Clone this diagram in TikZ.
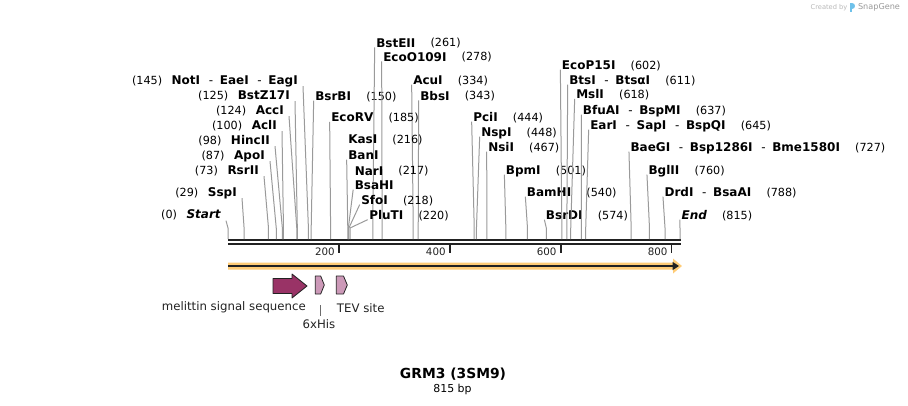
\documentclass[tikz,border=0pt]{standalone}
\usepackage{fontspec}
\setmainfont{DejaVu Sans}
\usetikzlibrary{positioning}

\definecolor{cutgray}{HTML}{9A9A9A}
\definecolor{rulerc}{HTML}{222222}
\definecolor{orfc}{HTML}{FFCC77}
\definecolor{melc}{HTML}{993366}
\definecolor{tagc}{HTML}{CC99B8}
\definecolor{logoc}{HTML}{6EC1EA}

\newcommand{\hy}{\mdseries\hspace{6.5pt}-\hspace{5pt}\bfseries}

\tikzset{enz/.style={font=\fontsize{9.0}{11}\selectfont\bfseries, inner sep=0pt,
                     text height=6.6pt, text depth=0pt}}
\tikzset{num/.style={font=\fontsize{8.4}{10}\selectfont, inner sep=0pt,
                     text height=6.1pt, text depth=0pt}}
\tikzset{cutline/.style={draw=cutgray, line width=0.75pt}}
\tikzset{feat/.style={font=\fontsize{8.8}{10}\selectfont, inner sep=0pt, text=rulerc}}
\tikzset{tagbox/.style={fill=tagc, draw=rulerc, line width=0.6pt, line join=round}}

\begin{document}
\begin{tikzpicture}[x=0.75pt, y=-0.75pt]
\useasboundingbox (0,0) rectangle (908,405);

% positions on the ruler (top edge) and the bend points above them
\foreach \p in {0,29,73,87,98,100,124,125,145,150,185,216,217,218,220,261,278,
                334,343,444,448,467,501,540,574,602,611,618,637,645,727,760,788,815}
 {\coordinate (p\p) at ({228+\p*0.5546},239);
  \coordinate (q\p) at ({228+\p*0.5546},228);}

% ruler
\draw[rulerc, line width=1.5pt] (228,240) -- (681,240);
\draw[rulerc, line width=1.6pt] (228,244) -- (681,244);
\foreach \t in {200,400,600,800}
 {\draw[rulerc, line width=1.2pt] ({228+\t*0.5546},244) -- ++(0,9);
  \node[font=\fontsize{7.7}{9}\selectfont, inner sep=0pt, text=rulerc, anchor=east]
       (t\t) at ({228+\t*0.5546-4},252) {\t};}

% ORF bar
\fill[orfc] (228,262.5) -- (673,262.5) -- (673,258.5) -- (682,266) -- (673,273.5)
            -- (673,269.5) -- (228,269.5) -- cycle;
\draw[rulerc, line width=1.4pt] (228,266) -- (674,266);
\fill[rulerc] (672.5,261.8) -- (679,266) -- (672.5,270.2) -- cycle;

% left side sites
\node[enz, anchor=east] (noti) at (298,80) {NotI\hy EaeI\hy EagI};
\node[num, left=6.75pt of noti] (n145) {(145)};
\draw[cutline] ([shift={(5,1.5)}]noti.south east) -- (q145) -- (p145);

\node[enz, anchor=east] (bstz) at (290,95) {BstZ17I};
\node[num, left=6.75pt of bstz] (n125) {(125)};
\draw[cutline] ([shift={(5,1.5)}]bstz.south east) -- (q125) -- (p125);

\node[enz, anchor=east] (acci) at (284,110) {AccI};
\node[num, left=6.75pt of acci] (n124) {(124)};
\draw[cutline] ([shift={(5,1.5)}]acci.south east) -- (q124) -- (p124);

\node[enz, anchor=east] (acli) at (277,125) {AclI};
\node[num, left=6.75pt of acli] (n100) {(100)};
\draw[cutline] ([shift={(5,1.5)}]acli.south east) -- (q100) -- (p100);

\node[enz, anchor=east] (hinc) at (270,140) {HincII};
\node[num, left=6.75pt of hinc] (n98) {(98)};
\draw[cutline] ([shift={(5,1.5)}]hinc.south east) -- (q98) -- (p98);

\node[enz, anchor=east] (apoi) at (265,155) {ApoI};
\node[num, left=6.75pt of apoi] (n87) {(87)};
\draw[cutline] ([shift={(5,1.5)}]apoi.south east) -- (q87) -- (p87);

\node[enz, anchor=east] (rsr) at (259,170) {RsrII};
\node[num, left=6.75pt of rsr] (n73) {(73)};
\draw[cutline] ([shift={(5,1.5)}]rsr.south east) -- (q73) -- (p73);

\node[enz, anchor=east] (sspi) at (237,192) {SspI};
\node[num, left=6.75pt of sspi] (n29) {(29)};
\draw[cutline] ([shift={(5,1.5)}]sspi.south east) -- (q29) -- (p29);

\node[enz, anchor=east] (start) at (221,214.5) {\itshape Start};
\node[num, left=6.75pt of start] (n0) {(0)};
\draw[cutline] ([shift={(5,1.5)}]start.south east) -- (q0) -- (p0);

% right side sites
\node[enz, anchor=west] (bsrbi) at (315,96) {BsrBI};
\node[num, right=11pt of bsrbi] (n150) {(150)};
\draw[cutline] ([xshift=-1]bsrbi.south west) -- (q150) -- (p150);

\node[enz, anchor=west] (bsteii) at (376,42.7) {BstEII};
\node[num, right=11pt of bsteii] (n261) {(261)};
\draw[cutline] ([xshift=-1]bsteii.south west) -- (q261) -- (p261);

\node[enz, anchor=west] (ecoo) at (383,56.7) {EcoO109I};
\node[num, right=11pt of ecoo] (n278) {(278)};
\draw[cutline] ([xshift=-1]ecoo.south west) -- (q278) -- (p278);

\node[enz, anchor=west] (acui) at (413,80) {AcuI};
\node[num, right=11pt of acui] (n334) {(334)};
\draw[cutline] ([xshift=-1]acui.south west) -- (q334) -- (p334);

\node[enz, anchor=west] (bbsi) at (420,95.7) {BbsI};
\node[num, right=11pt of bbsi] (n343) {(343)};
\draw[cutline] ([xshift=-1]bbsi.south west) -- (q343) -- (p343);

\node[enz, anchor=west] (ecorv) at (331,117.3) {EcoRV};
\node[num, right=11pt of ecorv] (n185) {(185)};
\draw[cutline] ([xshift=-1]ecorv.south west) -- (q185) -- (p185);

\node[enz, anchor=west] (kasi) at (348,139.3) {KasI};
\node[num, right=11pt of kasi] (n216) {(216)};
\node[enz, anchor=west] (bani) at (348,155) {BanI};
\draw[cutline] ([xshift=-1]bani.south west) -- (q216) -- (p216);

\node[enz, anchor=west] (nari) at (354.5,170.7) {NarI};
\node[num, right=11pt of nari] (n217) {(217)};
\node[enz, anchor=west] (bsahi) at (354.5,185) {BsaHI};
\draw[cutline] ([xshift=-1]bsahi.south west) -- (q217) -- (p217);

\node[enz, anchor=west] (sfoi) at (361,200) {SfoI};
\node[num, right=11pt of sfoi] (n218) {(218)};
\draw[cutline] ([xshift=-1]sfoi.south west) -- (q218) -- (p218);

\node[enz, anchor=west] (pluti) at (369,215) {PluTI};
\node[num, right=11pt of pluti] (n220) {(220)};
\draw[cutline] ([xshift=-1]pluti.south west) -- (q220) -- (p220);

\node[enz, anchor=west] (pcii) at (473,117) {PciI};
\node[num, right=11pt of pcii] (n444) {(444)};
\draw[cutline] ([xshift=-1]pcii.south west) -- (q444) -- (p444);

\node[enz, anchor=west] (nspi) at (481,132) {NspI};
\node[num, right=11pt of nspi] (n448) {(448)};
\draw[cutline] ([xshift=-1]nspi.south west) -- (q448) -- (p448);

\node[enz, anchor=west] (nsii) at (488,147) {NsiI};
\node[num, right=11pt of nsii] (n467) {(467)};
\draw[cutline] ([xshift=-1]nsii.south west) -- (q467) -- (p467);

\node[enz, anchor=west] (bpmi) at (505.7,170) {BpmI};
\node[num, right=11pt of bpmi] (n501) {(501)};
\draw[cutline] ([xshift=-1]bpmi.south west) -- (q501) -- (p501);

\node[enz, anchor=west] (bamhi) at (526.7,192) {BamHI};
\node[num, right=11pt of bamhi] (n540) {(540)};
\draw[cutline] ([xshift=-1]bamhi.south west) -- (q540) -- (p540);

\node[enz, anchor=west] (bsrdi) at (545.7,215) {BsrDI};
\node[num, right=11pt of bsrdi] (n574) {(574)};
\draw[cutline] ([xshift=-1]bsrdi.south west) -- (q574) -- (p574);

\node[enz, anchor=west] (ecop) at (561.7,65) {EcoP15I};
\node[num, right=11pt of ecop] (n602) {(602)};
\draw[cutline] ([xshift=-1]ecop.south west) -- (q602) -- (p602);

\node[enz, anchor=west] (btsi) at (569,80) {BtsI\hy BtsαI};
\node[num, right=11pt of btsi] (n611) {(611)};
\draw[cutline] ([xshift=-1]btsi.south west) -- (q611) -- (p611);

\node[enz, anchor=west] (msli) at (576,94.3) {MslI};
\node[num, right=11pt of msli] (n618) {(618)};
\draw[cutline] ([xshift=-1]msli.south west) -- (q618) -- (p618);

\node[enz, anchor=west] (bfuai) at (582.7,110) {BfuAI\hy BspMI};
\node[num, right=11pt of bfuai] (n637) {(637)};
\draw[cutline] ([xshift=-1]bfuai.south west) -- (q637) -- (p637);

\node[enz, anchor=west] (eari) at (590,125) {EarI\hy SapI\hy BspQI};
\node[num, right=11pt of eari] (n645) {(645)};
\draw[cutline] ([xshift=-1]eari.south west) -- (q645) -- (p645);

\node[enz, anchor=west] (baegi) at (630.3,147) {BaeGI\hy Bsp1286I\hy Bme1580I};
\node[num, right=11pt of baegi] (n727) {(727)};
\draw[cutline] ([xshift=-1]baegi.south west) -- (q727) -- (p727);

\node[enz, anchor=west] (bglii) at (648.3,170) {BglII};
\node[num, right=11pt of bglii] (n760) {(760)};
\draw[cutline] ([xshift=-1]bglii.south west) -- (q760) -- (p760);

\node[enz, anchor=west] (drdi) at (664.3,192) {DrdI\hy BsaAI};
\node[num, right=11pt of drdi] (n788) {(788)};
\draw[cutline] ([xshift=-1]drdi.south west) -- (q788) -- (p788);

\node[enz, anchor=west] (end) at (681.3,215) {\itshape End};
\node[num, right=11pt of end] (n815) {(815)};
\draw[cutline] ([xshift=-1]end.south west) -- (q815) -- (p815);

% features
\draw[fill=melc, draw=rulerc, line width=0.6pt, line join=round]
  (273,278.5) -- (292,278.5) -- (292,274) -- (307,286) -- (292,298) -- (292,293.5)
  -- (273,293.5) -- cycle;
\draw[tagbox] (315.3,276) -- (320.7,276) -- (324.3,285) -- (320.7,294) -- (315.3,294) -- cycle;
\draw[tagbox] (336.3,276) -- (343.5,276) -- (347.3,285) -- (343.5,294) -- (336.3,294) -- cycle;
\node[feat, anchor=east] (mel) at (306,307.7) {melittin signal sequence};
\node[feat] (his) at (319,324) {6xHis};
\draw[cutgray!70!black, line width=0.6pt] (320.7,305) -- (320.7,316);
\node[feat, anchor=west] (tev) at (336.7,307.7) {TEV site};

% name and size
\node[font=\fontsize{10.4}{12}\selectfont\bfseries, inner sep=0pt] (title) at (453,374) {GRM3 (3SM9)};
\node[font=\fontsize{8.2}{10}\selectfont, inner sep=0pt] (size) at (452.5,389) {815 bp};

% logo
\node[font=\fontsize{5}{6}\selectfont, text=black!28, inner sep=0pt] (made) at (829,7.5) {Created by};
\fill[logoc] (850,3) rectangle (852,12);
\fill[logoc] (852,3) .. controls (856,3) and (856,8.5) .. (852,8.5) -- cycle;
\node[font=\fontsize{6.1}{7}\selectfont, text=black!40, inner sep=0pt] (snap) at (879,7.5) {SnapGene};
\end{tikzpicture}
\end{document}
